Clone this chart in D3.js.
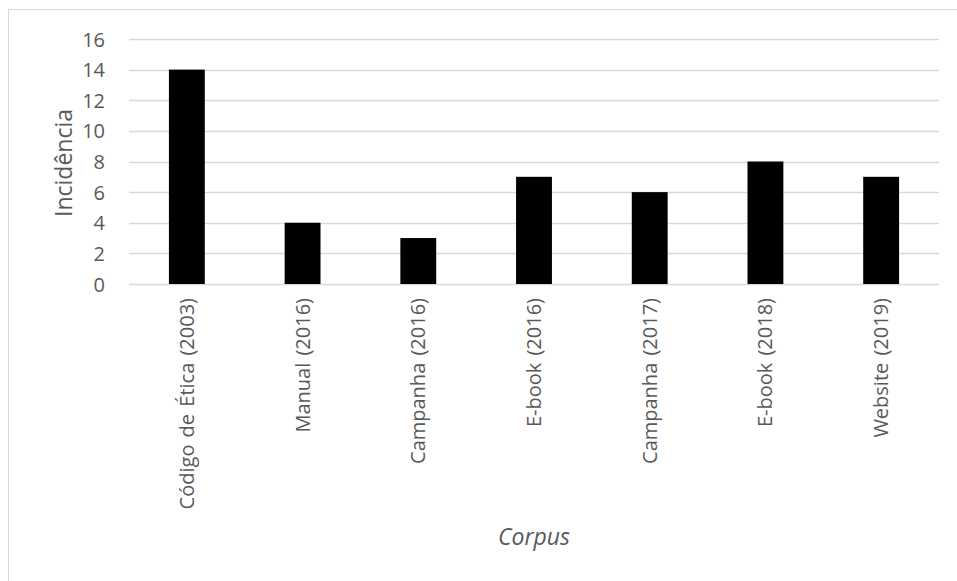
<!DOCTYPE html>
<html><head><meta charset="utf-8">
<script src="https://cdn.jsdelivr.net/npm/d3@7"></script>
<style>body{margin:0;background:#fff}svg{display:block}text{font-family:"Open Sans",sans-serif;fill:#595959}</style>
</head><body><svg id="c" width="957" height="581"></svg>
<script>
const categories = ["Código de Ética (2003)","Manual (2016)","Campanha (2016)","E-book (2016)","Campanha (2017)","E-book (2018)","Website (2019)"];
const values = [14,4,3,7,6,8,7];
const yTicks = [0,2,4,6,8,10,12,14,16];
const yTitle = "Incidência";
const xTitle = "Corpus";

const svg = d3.select("#c");
svg.append("rect").attr("x",8.5).attr("y",9.5).attr("width",960).attr("height",600)
  .attr("fill","#fff").attr("stroke","#d9d9d9").attr("stroke-width",1);

const pL=129, pR=939, pT=39, pB=284;
const x = d3.scaleBand().domain(categories).range([pL,pR]).paddingInner(0.69).paddingOuter(0.345);
const y = d3.scaleLinear().domain([0,16]).range([pB,pT]);

const grid = svg.append("g");
grid.selectAll("line").data(yTicks).join("line")
  .attr("x1",pL).attr("x2",pR).attr("y1",d=>Math.round(y(d))+0.5).attr("y2",d=>Math.round(y(d))+0.5)
  .attr("stroke","#d9d9d9").attr("stroke-width",1.3);

const yAxis = d3.axisLeft(y).tickValues(yTicks).tickSize(0).tickPadding(0);
const ya = svg.append("g").attr("transform",`translate(105,0)`).call(yAxis);
ya.select(".domain").remove();
ya.selectAll("text").style("font-size","20px").attr("dy","0.35em");

svg.append("g").selectAll("rect").data(values).join("rect")
  .attr("x",(d,i)=>x(categories[i])).attr("width",x.bandwidth())
  .attr("y",d=>y(d)).attr("height",d=>y(0)-y(d)).attr("fill","#000");

const xAxis = d3.axisBottom(x).tickSize(0).tickPadding(0);
const xa = svg.append("g").attr("transform",`translate(0,${pB})`).call(xAxis);
xa.select(".domain").remove();
xa.selectAll("text").style("font-size","20px").style("word-spacing","2px")
  .attr("transform","rotate(-90)").attr("text-anchor","end")
  .attr("x",-14).attr("y",0).attr("dy","0.35em");

svg.append("text").attr("transform",`translate(72,163) rotate(-90)`).attr("text-anchor","middle")
  .style("font-size","23px").text(yTitle);
svg.append("text").attr("x",(pL+pR)/2).attr("y",545).attr("text-anchor","middle")
  .style("font-size","23px").style("font-style","italic").text(xTitle);
</script></body></html>
